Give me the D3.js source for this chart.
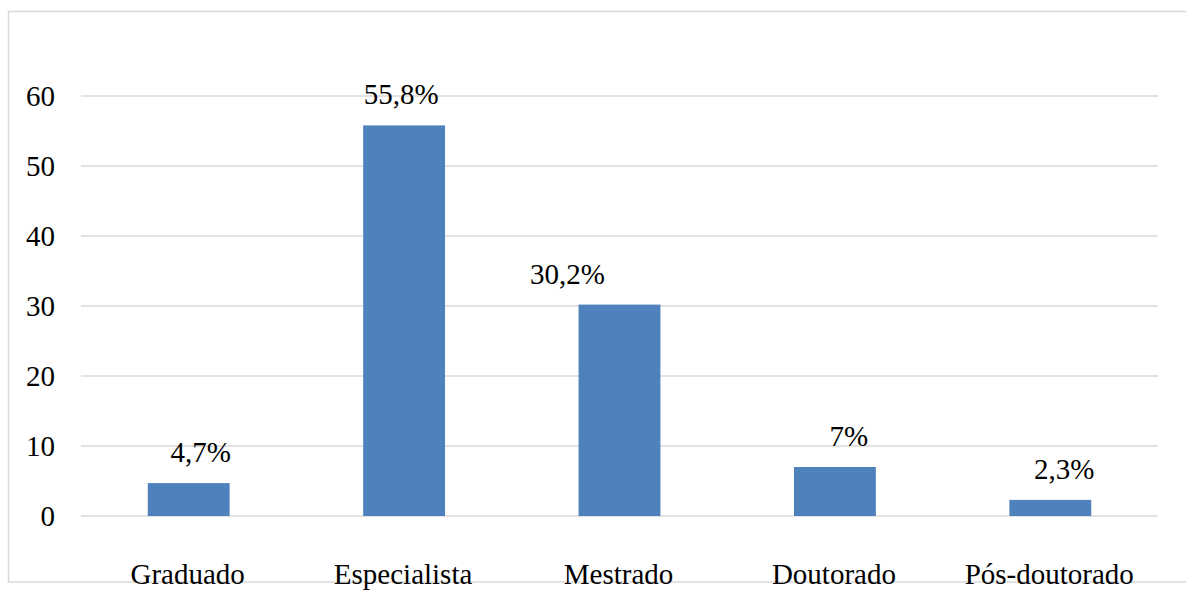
<!DOCTYPE html>
<html><head><meta charset="utf-8">
<script src="https://cdn.jsdelivr.net/npm/d3@7"></script>
<style>html,body{margin:0;padding:0;background:#fff;}svg{display:block;}text{font-family:"Liberation Serif","Times New Roman",serif;}</style>
</head><body>
<script>
const categories = ["Graduado", "Especialista", "Mestrado", "Doutorado", "Pós-doutorado"];
const values = [4.7, 55.8, 30.2, 7, 2.3];
const valueLabels = ["4,7%", "55,8%", "30,2%", "7%", "2,3%"];
const yTicks = [0, 10, 20, 30, 40, 50, 60];
// label horizontal offsets as placed in the original
const labelDx = [12, -3, -52, 14, 14];

const W = 1186, H = 590;
const svg = d3.select("body").append("svg").attr("width", W).attr("height", H);
svg.append("rect").attr("x", 8.5).attr("y", 11.5).attr("width", 1200).attr("height", 570.5)
  .attr("fill", "#fff").attr("stroke", "#d9d9d9").attr("stroke-width", 1.5);

const fs = 29;
const x = d3.scaleBand().domain(categories).range([81, 1158]).paddingInner(0.62).paddingOuter(0.31);
const y = d3.scaleLinear().domain([0, 60]).range([516, 96]);

const g = svg.append("g");
g.selectAll("line.grid").data(yTicks).join("line").attr("class", "grid")
  .attr("x1", 81).attr("x2", 1158).attr("y1", d => y(d)).attr("y2", d => y(d))
  .attr("stroke", "#d9d9d9").attr("stroke-width", 1.5);

g.selectAll("text.yt").data(yTicks).join("text").attr("class", "yt")
  .attr("x", 55).attr("y", d => y(d) + 10).attr("text-anchor", "end")
  .attr("font-size", fs).attr("fill", "#000").text(d => d);

g.selectAll("rect.bar").data(values).join("rect").attr("class", "bar")
  .attr("x", (d, i) => x(categories[i])).attr("width", x.bandwidth())
  .attr("y", d => y(d)).attr("height", d => y(0) - y(d)).attr("fill", "#4f81bd");

g.selectAll("text.vl").data(values).join("text").attr("class", "vl")
  .attr("x", (d, i) => x(categories[i]) + x.bandwidth() / 2 + labelDx[i])
  .attr("y", d => y(d) - 21).attr("text-anchor", "middle")
  .attr("font-size", fs).attr("fill", "#000")
  .text((d, i) => valueLabels[i]);

g.selectAll("text.xl").data(categories).join("text").attr("class", "xl")
  .attr("x", d => x(d) + x.bandwidth() / 2 - 1).attr("y", 584).attr("text-anchor", "middle")
  .attr("font-size", fs).attr("fill", "#000").text(d => d);
</script>
</body></html>
